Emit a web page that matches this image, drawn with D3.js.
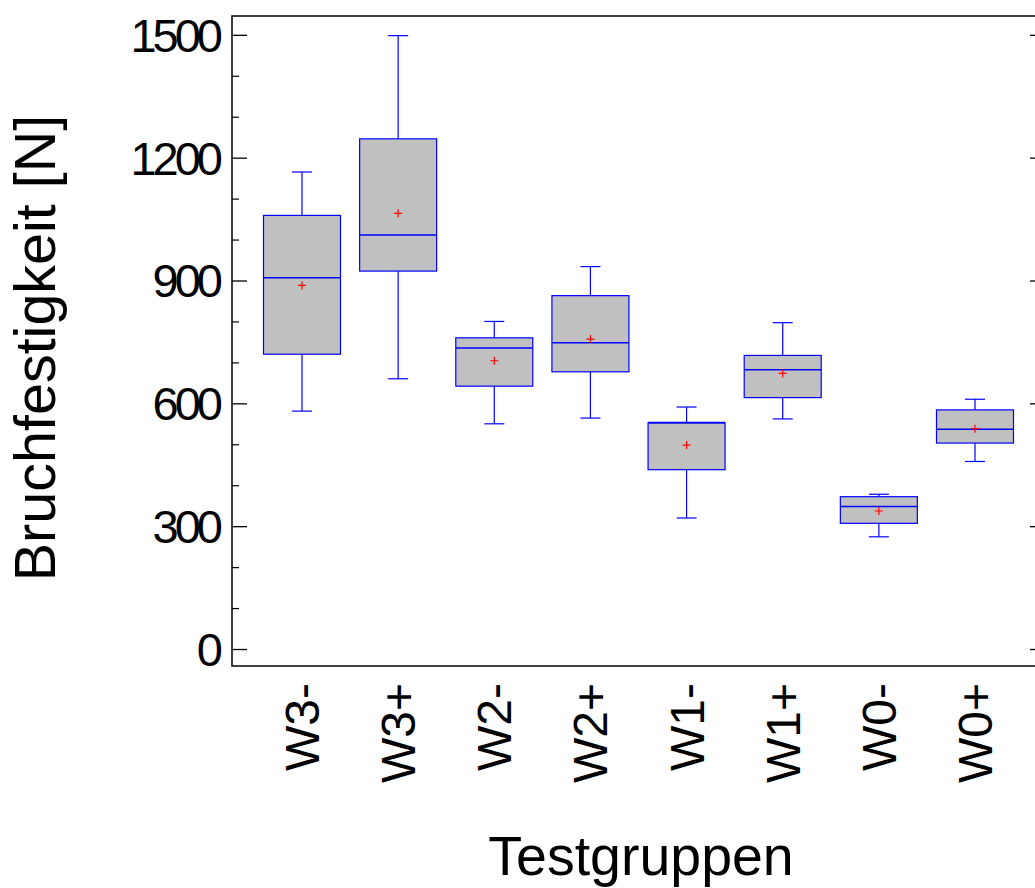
<!DOCTYPE html>
<html>
<head>
<meta charset="utf-8">
<script src="https://cdn.jsdelivr.net/npm/d3@7"></script>
<style>
  html, body { margin: 0; padding: 0; background: #fff; }
  svg { display: block; font-family: "Liberation Sans", Arial, sans-serif; }
</style>
</head>
<body>
<svg id="chart" width="1035" height="888"></svg>
<script>
// ---- Data ----
const categories   = ["W3-", "W3+", "W2-", "W2+", "W1-", "W1+", "W0-", "W0+"];
const whiskerLow   = [581, 660, 550, 564, 320, 562, 274, 458];
const q1           = [720, 923, 642, 677, 438, 614, 307, 503];
const median       = [907, 1011, 735, 748, 553, 682, 348, 537];
const q3           = [1059, 1246, 760, 863, 552, 717, 372, 584];
const whiskerHigh  = [1165, 1498, 800, 934, 591, 797, 378, 610];
const means        = [888, 1064, 704, 757, 498, 673, 337, 538];
const yTicks       = [0, 300, 600, 900, 1200, 1500];
const yMinorTicks  = [100, 200, 400, 500, 700, 800, 1000, 1100, 1300, 1400];
const yTitle = "Bruchfestigkeit [N]";
const xTitle = "Testgruppen";

// ---- Layout ----
const plot = { left: 232, top: 16, right: 1036, bottom: 666 };
const svg = d3.select("#chart");

const y = d3.scaleLinear().domain([-41.5, 1546]).range([plot.bottom, plot.top]);
const x = d3.scalePoint().domain(categories).range([302, 975]);

const boxW = 77, capW = 20;
const blue = "#0000ff";

const rows = categories.map((c, i) => ({
  cat: c, lo: whiskerLow[i], q1: Math.min(q1[i], q3[i]), med: median[i],
  q3: Math.max(q1[i], q3[i]), hi: whiskerHigh[i], mean: means[i]
}));

// frame
svg.append("rect")
  .attr("x", plot.left).attr("y", plot.top)
  .attr("width", plot.right - plot.left).attr("height", plot.bottom - plot.top)
  .attr("fill", "none").attr("stroke", "#000").attr("stroke-width", 1.5);

// left axis (ticks inward)
const leftAxis = d3.axisRight(y).tickValues(yTicks).tickSize(15).tickFormat("");
svg.append("g").attr("transform", `translate(${plot.left},0)`).call(leftAxis)
  .call(g => g.select(".domain").remove())
  .call(g => g.selectAll("line").attr("stroke", "#000").attr("stroke-width", 1.3));
const leftMinor = d3.axisRight(y).tickValues(yMinorTicks).tickSize(7).tickFormat("");
svg.append("g").attr("transform", `translate(${plot.left},0)`).call(leftMinor)
  .call(g => g.select(".domain").remove())
  .call(g => g.selectAll("line").attr("stroke", "#000").attr("stroke-width", 1.2));
// right axis (short inward ticks)
const rightAxis = d3.axisLeft(y).tickValues(yTicks).tickSize(5).tickFormat("");
svg.append("g").attr("transform", `translate(1035,0)`).call(rightAxis)
  .call(g => g.select(".domain").remove())
  .call(g => g.selectAll("line").attr("stroke", "#000").attr("stroke-width", 1.3));

// y tick labels
svg.append("g").selectAll("text").data(yTicks).join("text")
  .attr("x", 219).attr("y", d => y(d))
  .attr("dy", "0.36em")
  .attr("text-anchor", "end")
  .attr("font-size", 47)
  .attr("letter-spacing", "-4px")
  .attr("fill", "#000")
  .text(d => d);

// y title
svg.append("text")
  .attr("transform", `translate(55,348) rotate(-90)`)
  .attr("text-anchor", "middle")
  .attr("font-size", 57.5)
  .attr("fill", "#000")
  .text(yTitle);

// x tick labels (rotated)
svg.append("g").selectAll("text").data(categories).join("text")
  .attr("transform", d => `translate(${x(d) + 17},683) rotate(-90)`)
  .attr("text-anchor", "end")
  .attr("font-size", 48)
  .attr("fill", "#000")
  .text(d => d);

// x title
svg.append("text")
  .attr("x", 641).attr("y", 875)
  .attr("text-anchor", "middle")
  .attr("font-size", 55.5)
  .attr("fill", "#000")
  .text(xTitle);

// boxes
const g = svg.append("g");
const b = g.selectAll("g.box").data(rows).join("g").attr("class", "box");

// whiskers
b.append("line")
  .attr("x1", d => x(d.cat)).attr("x2", d => x(d.cat))
  .attr("y1", d => y(d.q3)).attr("y2", d => y(d.hi))
  .attr("stroke", blue).attr("stroke-width", 1.2);
b.append("line")
  .attr("x1", d => x(d.cat)).attr("x2", d => x(d.cat))
  .attr("y1", d => y(d.q1)).attr("y2", d => y(d.lo))
  .attr("stroke", blue).attr("stroke-width", 1.2);
// caps
b.append("line")
  .attr("x1", d => x(d.cat) - capW / 2).attr("x2", d => x(d.cat) + capW / 2)
  .attr("y1", d => y(d.hi)).attr("y2", d => y(d.hi))
  .attr("stroke", blue).attr("stroke-width", 1.2);
b.append("line")
  .attr("x1", d => x(d.cat) - capW / 2).attr("x2", d => x(d.cat) + capW / 2)
  .attr("y1", d => y(d.lo)).attr("y2", d => y(d.lo))
  .attr("stroke", blue).attr("stroke-width", 1.2);
// box
b.append("rect")
  .attr("x", d => x(d.cat) - boxW / 2).attr("width", boxW)
  .attr("y", d => y(d.q3)).attr("height", d => y(d.q1) - y(d.q3))
  .attr("fill", "#c0c0c0").attr("stroke", blue).attr("stroke-width", 1.2);
// median
b.append("line")
  .attr("x1", d => x(d.cat) - boxW / 2).attr("x2", d => x(d.cat) + boxW / 2)
  .attr("y1", d => y(d.med)).attr("y2", d => y(d.med))
  .attr("stroke", blue).attr("stroke-width", 1.5);
// mean marker (+)
const m = 4;
b.append("path")
  .attr("d", d => `M${x(d.cat) - m},${y(d.mean)}H${x(d.cat) + m}M${x(d.cat)},${y(d.mean) - m}V${y(d.mean) + m}`)
  .attr("stroke", "#ff0000").attr("stroke-width", 1.2).attr("fill", "none");
</script>
</body>
</html>
